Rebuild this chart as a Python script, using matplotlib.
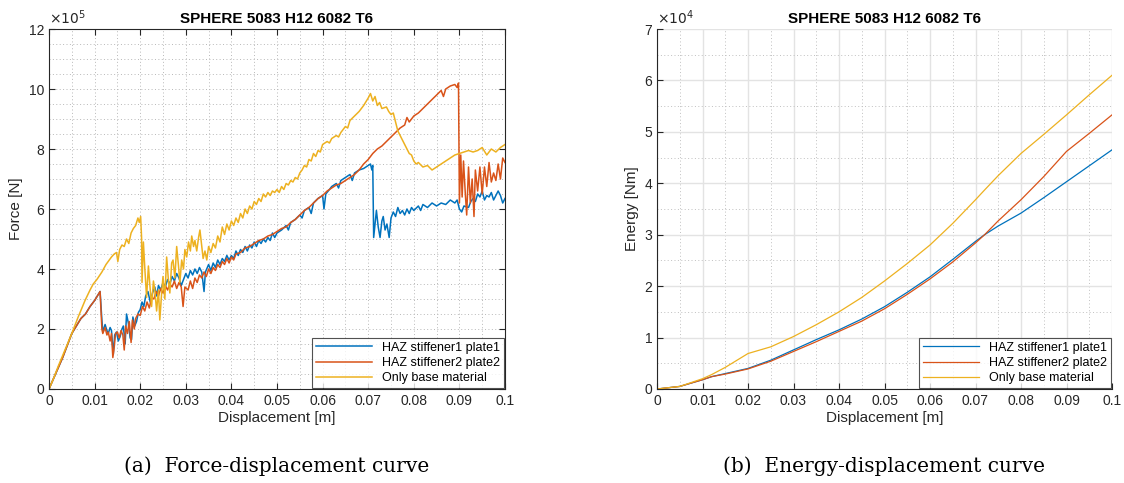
import numpy as np
import matplotlib
matplotlib.use("Agg")
import matplotlib.pyplot as plt
from matplotlib.ticker import MultipleLocator

plt.rcParams['font.family'] = ['Liberation Sans', 'DejaVu Sans']

# ---------------- data ----------------
title = "SPHERE 5083 H12 6082 T6"
labels = ["HAZ stiffener1 plate1", "HAZ stiffener2 plate2", "Only base material"]
colors = ["#0072BD", "#D95319", "#EDB120"]

# Force-displacement (force in 1e5 N)
blue_x = [0.0000, 0.0010, 0.0020, 0.0030, 0.0040, 0.0050, 0.0060, 0.0070, 0.0080, 0.0090, 0.0100, 0.0106, 0.0112,
          0.0116, 0.0118, 0.0123, 0.0127, 0.0130, 0.0134, 0.0137, 0.0141, 0.0144, 0.0148, 0.0152, 0.0156, 0.0160,
          0.0163, 0.0167, 0.0170, 0.0174, 0.0178, 0.0181, 0.0184, 0.0188, 0.0192, 0.0196, 0.0200, 0.0204, 0.0208,
          0.0212, 0.0217, 0.0222, 0.0227, 0.0232, 0.0236, 0.0240, 0.0245, 0.0250, 0.0255, 0.0260, 0.0265, 0.0270,
          0.0275, 0.0280, 0.0285, 0.0290, 0.0300, 0.0305, 0.0310, 0.0315, 0.0320, 0.0325, 0.0330, 0.0335, 0.0340,
          0.0343, 0.0350, 0.0355, 0.0360, 0.0365, 0.0370, 0.0375, 0.0380, 0.0385, 0.0390, 0.0395, 0.0400, 0.0405,
          0.0410, 0.0415, 0.0420, 0.0425, 0.0430, 0.0435, 0.0440, 0.0445, 0.0450, 0.0455, 0.0460, 0.0465, 0.0470,
          0.0475, 0.0480, 0.0485, 0.0490, 0.0495, 0.0500, 0.0510, 0.0520, 0.0525, 0.0530, 0.0540, 0.0550, 0.0555,
          0.0560, 0.0570, 0.0575, 0.0580, 0.0590, 0.0600, 0.0603, 0.0607, 0.0615, 0.0620, 0.0630, 0.0635, 0.0640,
          0.0650, 0.0660, 0.0665, 0.0670, 0.0680, 0.0690, 0.0700, 0.0705, 0.0708, 0.0710, 0.0712, 0.0715, 0.0718,
          0.0722, 0.0726, 0.0730, 0.0733, 0.0737, 0.0741, 0.0746, 0.0750, 0.0755, 0.0760, 0.0765, 0.0770, 0.0775,
          0.0780, 0.0785, 0.0790, 0.0795, 0.0800, 0.0810, 0.0815, 0.0820, 0.0830, 0.0840, 0.0850, 0.0860, 0.0870,
          0.0880, 0.0890, 0.0895, 0.0900, 0.0905, 0.0910, 0.0920, 0.0925, 0.0930, 0.0935, 0.0940, 0.0945, 0.0950,
          0.0955, 0.0960, 0.0965, 0.0970, 0.0975, 0.0980, 0.0985, 0.0990, 0.0995, 0.1000]
blue_f = [0.00, 0.35, 0.70, 1.05, 1.45, 1.85, 2.10, 2.35, 2.50, 2.75, 2.95, 3.10, 3.25,
          2.30, 1.90, 2.15, 1.95, 1.85, 2.05, 1.95, 1.15, 1.80, 1.90, 1.60, 1.75, 2.00,
          2.10, 1.50, 2.50, 2.20, 1.70, 1.65, 2.40, 2.10, 2.25, 2.55, 2.65, 2.90, 2.75,
          3.10, 3.25, 2.90, 3.20, 3.40, 3.10, 3.45, 3.30, 3.55, 3.40, 3.65, 3.50, 3.75,
          3.60, 3.85, 3.70, 3.45, 3.85, 3.70, 3.95, 3.80, 4.00, 3.85, 4.05, 3.90, 3.25,
          3.90, 4.15, 3.95, 4.20, 4.05, 4.30, 4.15, 4.35, 4.25, 4.45, 4.30, 4.45, 4.35,
          4.60, 4.45, 4.65, 4.55, 4.75, 4.60, 4.80, 4.70, 4.90, 4.75, 4.95, 4.85, 5.00,
          4.90, 5.05, 4.95, 5.20, 5.05, 5.20, 5.30, 5.45, 5.30, 5.55, 5.65, 5.80, 5.70,
          5.95, 6.05, 5.85, 6.20, 6.35, 6.45, 6.00, 6.50, 6.65, 6.75, 6.85, 6.70, 6.95,
          7.05, 7.15, 6.95, 7.20, 7.30, 7.35, 7.45, 7.50, 7.30, 7.45, 5.05, 5.50, 5.95,
          5.40, 5.05, 5.60, 5.75, 5.30, 5.50, 5.05, 5.70, 5.90, 5.75, 6.05, 5.85, 5.95,
          5.80, 6.00, 5.85, 6.05, 5.95, 6.10, 5.95, 6.15, 6.05, 6.20, 6.10, 6.20, 6.15,
          6.30, 6.20, 6.30, 6.00, 5.90, 6.10, 6.05, 6.25, 6.35, 6.25, 6.50, 6.40, 6.60,
          6.30, 6.45, 6.40, 6.55, 6.30, 6.45, 6.60, 6.45, 6.20, 6.35]

red_x = [0.0000, 0.0010, 0.0020, 0.0030, 0.0040, 0.0050, 0.0060, 0.0070, 0.0080, 0.0090, 0.0100, 0.0106, 0.0112,
         0.0116, 0.0118, 0.0123, 0.0127, 0.0130, 0.0134, 0.0137, 0.0140, 0.0143, 0.0146, 0.0150, 0.0154, 0.0158,
         0.0162, 0.0165, 0.0168, 0.0172, 0.0176, 0.0180, 0.0183, 0.0187, 0.0190, 0.0195, 0.0200, 0.0205, 0.0210,
         0.0215, 0.0220, 0.0225, 0.0230, 0.0235, 0.0240, 0.0245, 0.0250, 0.0255, 0.0260, 0.0265, 0.0270, 0.0275,
         0.0280, 0.0285, 0.0290, 0.0294, 0.0298, 0.0305, 0.0310, 0.0315, 0.0320, 0.0325, 0.0330, 0.0335, 0.0340,
         0.0345, 0.0350, 0.0355, 0.0360, 0.0365, 0.0370, 0.0375, 0.0380, 0.0385, 0.0390, 0.0395, 0.0400, 0.0405,
         0.0410, 0.0420, 0.0430, 0.0440, 0.0450, 0.0460, 0.0470, 0.0480, 0.0490, 0.0500, 0.0510, 0.0520, 0.0530,
         0.0540, 0.0550, 0.0560, 0.0570, 0.0580, 0.0590, 0.0600, 0.0610, 0.0620, 0.0630, 0.0640, 0.0650, 0.0660,
         0.0670, 0.0680, 0.0690, 0.0700, 0.0710, 0.0720, 0.0730, 0.0740, 0.0750, 0.0760, 0.0770, 0.0780, 0.0785,
         0.0790, 0.0800, 0.0810, 0.0820, 0.0830, 0.0840, 0.0850, 0.0860, 0.0865, 0.0870, 0.0880, 0.0890, 0.0895,
         0.0898, 0.0900, 0.0903, 0.0906, 0.0909, 0.0913, 0.0916, 0.0920, 0.0924, 0.0928, 0.0932, 0.0935, 0.0940,
         0.0945, 0.0950, 0.0955, 0.0960, 0.0965, 0.0970, 0.0975, 0.0980, 0.0985, 0.0990, 0.0995, 0.1000]
red_f = [0.00, 0.35, 0.70, 1.05, 1.45, 1.85, 2.10, 2.35, 2.50, 2.75, 2.95, 3.10, 3.25,
         2.00, 1.85, 2.05, 1.80, 1.90, 1.60, 1.85, 1.05, 1.40, 1.85, 1.90, 1.70, 1.95,
         1.80, 1.30, 2.10, 1.85, 2.25, 1.55, 2.30, 2.00, 2.35, 2.50, 2.45, 2.75, 2.60,
         2.90, 2.70, 3.05, 3.00, 3.25, 3.10, 3.35, 3.20, 3.45, 3.30, 3.50, 3.40, 3.60,
         3.35, 3.55, 3.40, 2.75, 3.40, 3.30, 3.60, 3.35, 3.70, 3.55, 3.80, 3.70, 3.90,
         3.75, 4.00, 3.85, 4.05, 3.95, 4.15, 4.05, 4.25, 4.15, 4.35, 4.20, 4.40, 4.30,
         4.50, 4.55, 4.70, 4.75, 4.85, 4.95, 5.00, 5.10, 5.15, 5.25, 5.35, 5.40, 5.55,
         5.65, 5.80, 5.95, 6.05, 6.20, 6.35, 6.45, 6.60, 6.70, 6.80, 6.85, 6.95, 7.05,
         7.15, 7.30, 7.50, 7.65, 7.85, 8.00, 8.10, 8.25, 8.40, 8.55, 8.70, 8.80, 9.05,
         8.90, 9.10, 9.20, 9.35, 9.50, 9.65, 9.80, 9.95, 9.75, 10.00, 10.10, 10.15, 10.05,
         10.20, 6.20, 7.80, 6.40, 7.60, 6.50, 5.80, 7.40, 6.20, 7.00, 5.75, 7.30, 6.60,
         7.40, 6.50, 7.40, 6.75, 7.55, 6.90, 7.20, 6.95, 7.50, 7.00, 7.70, 7.55]

yel_x = [0.0000, 0.0010, 0.0020, 0.0035, 0.0050, 0.0064, 0.0079, 0.0090, 0.0097, 0.0105, 0.0116, 0.0125, 0.0137,
         0.0143, 0.0148, 0.0151, 0.0155, 0.0160, 0.0165, 0.0170, 0.0175, 0.0180, 0.0185, 0.0190, 0.0195, 0.0198,
         0.0201, 0.0203, 0.0204, 0.0207, 0.0210, 0.0214, 0.0218, 0.0221, 0.0225, 0.0229, 0.0232, 0.0236, 0.0240,
         0.0243, 0.0247, 0.0250, 0.0254, 0.0258, 0.0262, 0.0265, 0.0269, 0.0272, 0.0276, 0.0280, 0.0284, 0.0287,
         0.0291, 0.0295, 0.0298, 0.0302, 0.0306, 0.0310, 0.0313, 0.0317, 0.0320, 0.0324, 0.0328, 0.0331, 0.0334,
         0.0338, 0.0342, 0.0346, 0.0350, 0.0355, 0.0360, 0.0365, 0.0370, 0.0375, 0.0380, 0.0385, 0.0390, 0.0395,
         0.0400, 0.0405, 0.0410, 0.0415, 0.0420, 0.0425, 0.0430, 0.0435, 0.0440, 0.0445, 0.0450, 0.0455, 0.0460,
         0.0465, 0.0470, 0.0475, 0.0480, 0.0485, 0.0490, 0.0495, 0.0500, 0.0505, 0.0510, 0.0515, 0.0520, 0.0525,
         0.0530, 0.0535, 0.0540, 0.0545, 0.0550, 0.0555, 0.0560, 0.0565, 0.0570, 0.0575, 0.0580, 0.0585, 0.0590,
         0.0595, 0.0600, 0.0610, 0.0615, 0.0620, 0.0630, 0.0635, 0.0640, 0.0650, 0.0655, 0.0660,
         0.0670, 0.0680, 0.0690, 0.0700, 0.0705, 0.0710, 0.0715, 0.0720, 0.0725, 0.0730, 0.0740, 0.0745, 0.0750,
         0.0755, 0.0760, 0.0765, 0.0770, 0.0775, 0.0780, 0.0785, 0.0790, 0.0795, 0.0800, 0.0805, 0.0810, 0.0820,
         0.0830, 0.0840, 0.0850, 0.0860, 0.0870, 0.0880, 0.0890, 0.0900, 0.0910, 0.0920, 0.0930, 0.0940, 0.0950,
         0.0960, 0.0970, 0.0980, 0.0990, 0.1000]
yel_f = [0.00, 0.35, 0.75, 1.30, 1.85, 2.40, 2.95, 3.30, 3.50, 3.65, 3.90, 4.15, 4.40,
         4.50, 4.55, 4.25, 4.65, 4.80, 4.75, 5.00, 4.85, 5.20, 5.35, 5.45, 5.70, 5.55,
         5.75, 5.05, 3.55, 4.90, 4.05, 3.05, 4.10, 3.50, 2.75, 3.60, 3.30, 2.60, 3.30,
         2.30, 3.20, 3.75, 3.00, 4.40, 3.60, 3.20, 4.20, 4.30, 3.70, 4.75, 4.10, 3.55,
         4.30, 4.00, 4.65, 4.40, 4.90, 4.60, 5.10, 4.75, 4.95, 4.60, 5.05, 5.30, 4.90,
         4.35, 4.60, 4.30, 4.75, 4.55, 4.85, 4.70, 5.10, 4.90, 5.40, 5.15, 5.50, 5.30,
         5.60, 5.45, 5.70, 5.55, 5.85, 5.70, 6.00, 5.85, 6.10, 6.00, 6.25, 6.15, 6.35,
         6.25, 6.50, 6.40, 6.55, 6.45, 6.60, 6.55, 6.65, 6.55, 6.75, 6.65, 6.85, 6.80,
         6.95, 6.90, 7.05, 7.00, 7.20, 7.30, 7.45, 7.40, 7.65, 7.60, 7.85, 7.75, 7.95,
         7.90, 8.15, 8.25, 8.20, 8.35, 8.45, 8.40, 8.55, 8.75, 8.70, 8.95,
         9.10, 9.25, 9.45, 9.70, 9.85, 9.60, 9.75, 9.45, 9.55, 9.35, 9.40, 9.25, 9.15,
         9.20, 8.90, 8.60, 8.45, 8.30, 8.15, 8.00, 7.85, 7.80, 7.60, 7.50, 7.55, 7.40,
         7.45, 7.30, 7.40, 7.50, 7.60, 7.70, 7.80, 7.85, 7.90, 7.95, 7.90, 7.95, 8.05,
         7.80, 8.00, 7.90, 8.05, 8.15]

# Energy-displacement (energy in 1e4 Nm)
energy_x = [0.000, 0.005, 0.010, 0.012, 0.015, 0.020, 0.025, 0.030, 0.035, 0.040, 0.045, 0.050,
            0.055, 0.060, 0.065, 0.070, 0.072, 0.075, 0.080, 0.085, 0.090, 0.095, 0.100]
energy_blue = [0.00, 0.05, 0.18, 0.24, 0.30, 0.40, 0.56, 0.76, 0.96, 1.15, 1.36, 1.60,
               1.88, 2.18, 2.52, 2.87, 3.00, 3.17, 3.42, 3.72, 4.03, 4.34, 4.65]
energy_red = [0.00, 0.05, 0.18, 0.24, 0.29, 0.39, 0.54, 0.73, 0.92, 1.12, 1.32, 1.56,
              1.84, 2.14, 2.47, 2.84, 3.00, 3.27, 3.68, 4.13, 4.62, 4.97, 5.33]
energy_yel = [0.00, 0.05, 0.20, 0.28, 0.42, 0.69, 0.82, 1.02, 1.25, 1.50, 1.78, 2.10,
              2.44, 2.80, 3.22, 3.68, 3.87, 4.15, 4.58, 4.95, 5.33, 5.72, 6.10]

xticks = [0, 0.01, 0.02, 0.03, 0.04, 0.05, 0.06, 0.07, 0.08, 0.09, 0.1]
xtick_labels = ["0", "0.01", "0.02", "0.03", "0.04", "0.05", "0.06", "0.07", "0.08", "0.09", "0.1"]

# ---------------- figure ----------------
fig = plt.figure(figsize=(11.24, 4.83), dpi=100)
W, H = 1124, 483
ax1 = fig.add_axes([49 / W, 1 - 389 / H, 456 / W, 360 / H])
ax2 = fig.add_axes([657 / W, 1 - 389 / H, 455 / W, 360 / H])

tick_col = "#262626"
for ax in (ax1, ax2):
    ax.set_xlim(0, 0.1)
    ax.set_xticks(xticks)
    ax.set_xticklabels(xtick_labels)
    ax.xaxis.set_minor_locator(MultipleLocator(0.005))
    ax.tick_params(axis="both", which="major", labelsize=10, colors=tick_col, direction="in", length=4, width=0.8)
    ax.tick_params(axis="both", which="minor", length=0)
    ax.set_xlabel("Displacement [m]", fontsize=11, color=tick_col, labelpad=2)
    ax.set_title(title, fontsize=11, fontweight="bold", pad=4)
    ax.set_axisbelow(True)

# left: force
ax1.set_ylim(0, 12)
ax1.set_yticks([0, 2, 4, 6, 8, 10, 12])
ax1.yaxis.set_minor_locator(MultipleLocator(0.5))
ax1.grid(which="minor", linestyle=(0, (1, 2.5)), color="#b8b8b8", linewidth=0.7)
ax1.grid(which="major", linestyle=(0, (1, 2.5)), color="#b8b8b8", linewidth=0.7)
ax1.tick_params(top=True, right=True, which="major")
for s in ax1.spines.values():
    s.set_color(tick_col)
    s.set_linewidth(0.8)
ax1.plot(blue_x, blue_f, color=colors[0], lw=1.1, label=labels[0])
ax1.plot(red_x, red_f, color=colors[1], lw=1.1, label=labels[1])
ax1.plot(yel_x, yel_f, color=colors[2], lw=1.1, label=labels[2])
ax1.set_ylabel("Force [N]", fontsize=11, color=tick_col, labelpad=4)
ax1.text(0.0, 1.005, r"$\times10^5$", transform=ax1.transAxes, fontsize=10, color=tick_col,
         ha="left", va="bottom")

# right: energy
ax2.set_ylim(0, 7)
ax2.set_yticks([0, 1, 2, 3, 4, 5, 6, 7])
ax2.yaxis.set_minor_locator(MultipleLocator(0.5))
ax2.grid(which="major", linestyle="-", color="#e3e3e3", linewidth=1.0)
ax2.grid(which="minor", linestyle=(0, (1, 2.5)), color="#c0c0c0", linewidth=0.7)
ax2.spines["top"].set_visible(False)
ax2.spines["right"].set_visible(False)
for s in ("left", "bottom"):
    ax2.spines[s].set_color(tick_col)
    ax2.spines[s].set_linewidth(0.8)
ax2.plot(energy_x, energy_blue, color=colors[0], lw=0.9, label=labels[0])
ax2.plot(energy_x, energy_red, color=colors[1], lw=0.9, label=labels[1])
ax2.plot(energy_x, energy_yel, color=colors[2], lw=0.9, label=labels[2])
ax2.set_ylabel("Energy [Nm]", fontsize=11, color=tick_col, labelpad=4)
ax2.text(0.0, 1.005, r"$\times10^4$", transform=ax2.transAxes, fontsize=10, color=tick_col,
         ha="left", va="bottom")

for ax in (ax1, ax2):
    leg = ax.legend(loc="lower right", fontsize=9, frameon=True, fancybox=False,
                    borderaxespad=0.1, handlelength=4.5, labelspacing=0.25, borderpad=0.3)
    leg.get_frame().set_edgecolor(tick_col)
    leg.get_frame().set_linewidth(0.8)

fig.text(277 / W, 1 - 466 / H, "(a)  Force-displacement curve", family="DejaVu Serif",
         fontsize=14.5, ha="center", va="center")
fig.text(884 / W, 1 - 466 / H, "(b)  Energy-displacement curve", family="DejaVu Serif",
         fontsize=14.5, ha="center", va="center")

fig.savefig("out.png", dpi=100)
